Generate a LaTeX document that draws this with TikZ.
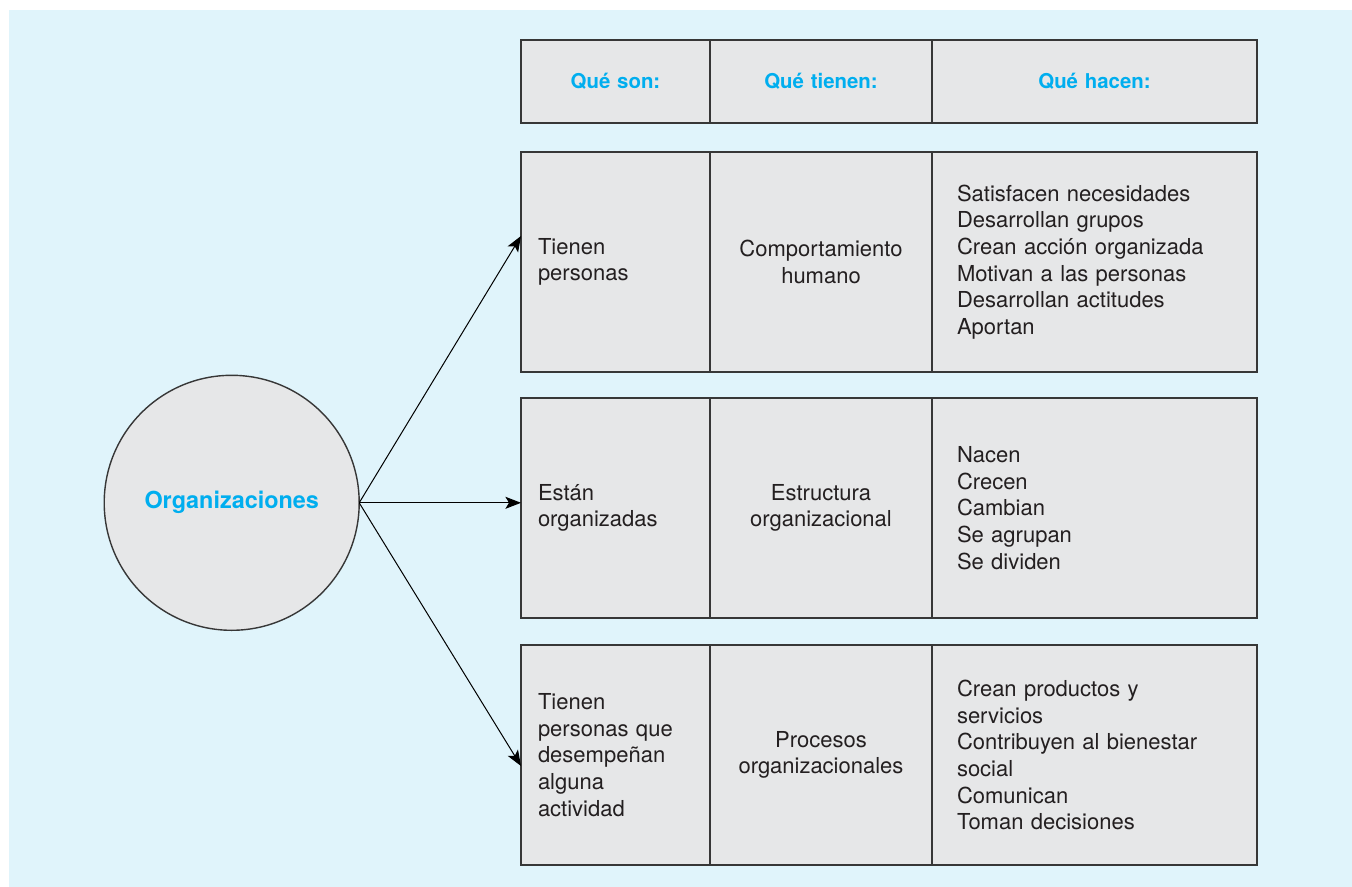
\documentclass[tikz,border=0pt]{standalone}
\usepackage{fontspec}
\setmainfont{TeX Gyre Heros}
\usetikzlibrary{positioning}
\usetikzlibrary{arrows.meta}
\definecolor{bgblue}{RGB}{224,244,251}
\definecolor{cellgray}{RGB}{230,231,232}
\definecolor{headcyan}{RGB}{0,174,239}
\definecolor{ink}{RGB}{35,31,32}
\definecolor{edge}{RGB}{55,55,55}

\begin{document}
\begin{tikzpicture}
[x=0.5pt,y=-0.5pt,%
  every node/.style={outer sep=0pt,text=ink,font=\fontsize{11}{13.35}\selectfont},%
  cell/.style={draw=edge,line width=0.7pt,fill=cellgray,minimum height=110pt,inner ysep=0pt},%
  colson/.style={cell,text width=77.5pt,inner xsep=8.5pt,align=left},%
  coltienen/.style={cell,text width=101pt,inner xsep=5pt,align=center},%
  colhacen/.style={cell,text width=137.5pt,inner xsep=12.5pt,align=left},%
  headcell/.style={minimum height=41.5pt,text=headcyan,align=center,%
    font=\fontsize{10.2}{12}\selectfont\bfseries},%
  arr/.style={-{Stealth[length=7.8pt,width=6pt,inset=1.8pt]},line width=0.5pt,draw=black}]
\useasboundingbox (0,0) rectangle (1352,887);
\fill[bgblue] (9,10) rectangle (1352,887);

% encabezados
\node[colson,headcell,anchor=north west] (hson) at (521,40) {Qué son:};
\node[coltienen,headcell,right=0pt of hson] (htienen) {Qué tienen:};
\node[colhacen,headcell,right=0pt of htienen] (hhacen) {Qué hacen:};

% fila 1
\node[colson,anchor=north west] (son1) at (521,152) {Tienen\\personas};
\node[coltienen,right=0pt of son1] (tienen1) {Comportamiento\\humano};
\node[colhacen,right=0pt of tienen1] (hacen1) {Satisfacen necesidades\\Desarrollan grupos\\%
  Crean acción organizada\\Motivan a las personas\\Desarrollan actitudes\\Aportan};

% fila 2
\node[colson,anchor=north west] (son2) at (521,398) {Están\\organizadas};
\node[coltienen,right=0pt of son2] (tienen2) {Estructura\\organizacional};
\node[colhacen,right=0pt of tienen2] (hacen2) {Nacen\\Crecen\\Cambian\\Se agrupan\\Se dividen};

% fila 3
\node[colson,anchor=north west] (son3) at (521,645) {Tienen\\personas que\\desempeñan\\alguna\\actividad};
\node[coltienen,right=0pt of son3] (tienen3) {Procesos\\organizacionales};
\node[colhacen,right=0pt of tienen3] (hacen3) {Crean productos y\\servicios\\%
  Contribuyen al bienestar\\social\\Comunican\\Toman decisiones};

% circulo
\node[circle,draw=edge,line width=0.7pt,fill=cellgray,minimum size=127.5pt,inner sep=0pt,%
  text=headcyan,font=\fontsize{11.7}{14}\selectfont\bfseries] (org) at (231.7,502.8) {Organizaciones};

\coordinate (tip1) at (521,236);
\coordinate (tip2) at (521,502.8);
\coordinate (tip3) at (521,766);
\draw[arr] (org.east) -- (tip1);
\draw[arr] (org.east) -- (tip2);
\draw[arr] (org.east) -- (tip3);
\end{tikzpicture}
\end{document}
